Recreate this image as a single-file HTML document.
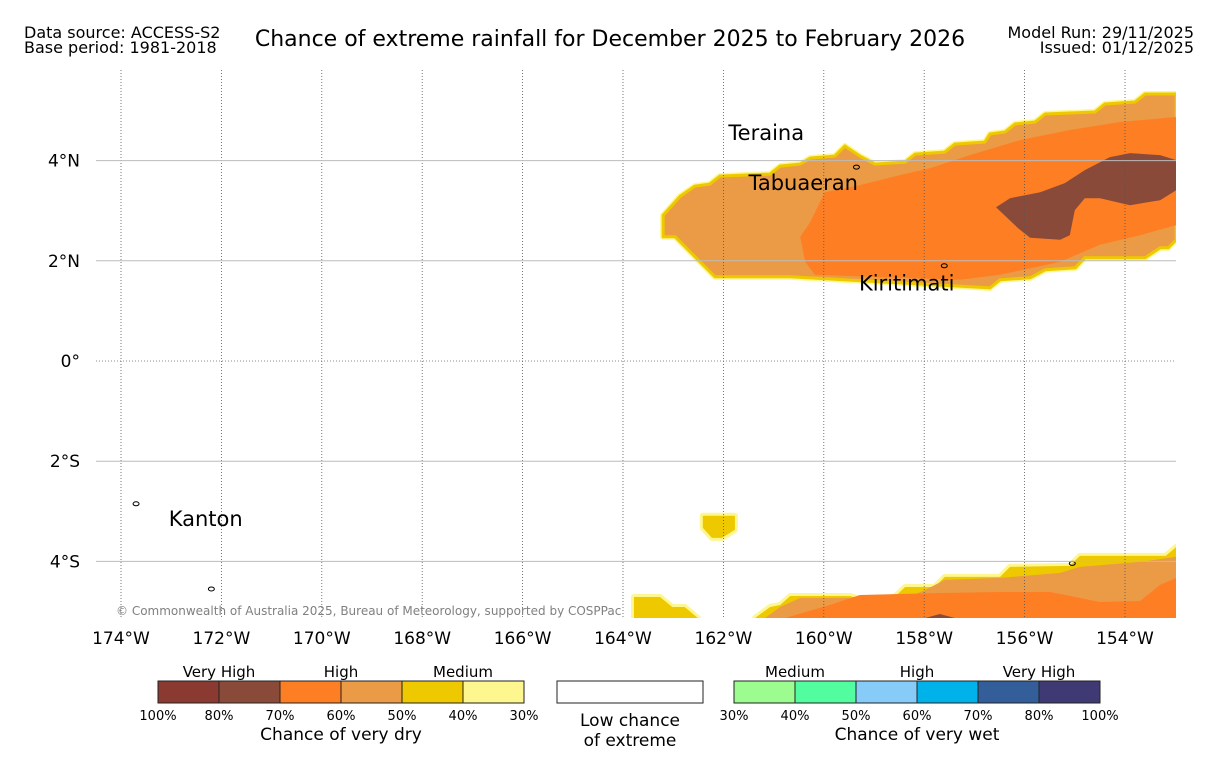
<!DOCTYPE html>
<html><head><meta charset="utf-8"><style>
body{margin:0;background:#fff;width:1219px;height:758px;overflow:hidden;font-family:"DejaVu Sans","Liberation Sans",sans-serif;}
svg{display:block}
text{font-family:"DejaVu Sans","Liberation Sans",sans-serif;}
</style></head><body>
<svg id="chart" width="1219" height="758" viewBox="0 0 1219 758">
<text x="24" y="38" font-size="16">Data source: ACCESS-S2</text>
<text x="24" y="53" font-size="16">Base period: 1981-2018</text>
<text x="610" y="46" font-size="22" text-anchor="middle">Chance of extreme rainfall for December 2025 to February 2026</text>
<text x="1194" y="38" font-size="16" text-anchor="end">Model Run: 29/11/2025</text>
<text x="1194" y="53" font-size="16" text-anchor="end">Issued: 01/12/2025</text>
<g id="map"></g>
<g id="legend"></g>
</svg>
<script>
const lonTicks=[-174,-172,-170,-168,-166,-164,-162,-160,-158,-156,-154];
const latTicks=[4,2,0,-2,-4];
const yellowRegionN=[[-163.2,2.91],[-163.2,2.48],[-162.96,2.48],[-162.17,1.68],[-160.67,1.68],[-156.69,1.46],[-156.49,1.62],[-155.89,1.66],[-155.59,1.82],[-154.99,1.86],[-154.8,2.06],[-153.6,2.06],[-153.3,2.26],[-153.14,2.26],[-152.98,2.42],[-152.98,5.33],[-153.6,5.33],[-153.8,5.17],[-154.4,5.13],[-154.6,4.97],[-155.59,4.93],[-155.79,4.77],[-156.19,4.73],[-156.39,4.57],[-156.69,4.53],[-156.79,4.37],[-157.39,4.33],[-157.59,4.17],[-158.18,4.13],[-158.38,3.97],[-158.98,3.93],[-159.28,4.09],[-159.58,4.29],[-159.78,4.09],[-160.27,4.05],[-160.47,3.93],[-160.87,3.89],[-161.07,3.73],[-162.07,3.69],[-162.27,3.53],[-162.57,3.49],[-162.86,3.29]];
const orangeRegionN=[[-160.47,2.48],[-160.27,2.77],[-159.98,3.37],[-159.28,3.51],[-158.48,3.71],[-157.88,3.85],[-157.09,4.11],[-156.09,4.41],[-155.1,4.61],[-154.1,4.77],[-152.98,4.87],[-152.98,2.71],[-153.7,2.51],[-154.5,2.32],[-155.29,1.98],[-156.49,1.72],[-157.29,1.62],[-158.48,1.66],[-160.18,1.72],[-160.37,1.98]];
const brownRegionN=[[-156.57,3.07],[-156.29,3.25],[-155.69,3.37],[-155.2,3.55],[-154.8,3.81],[-154.3,4.07],[-153.9,4.15],[-153.3,4.11],[-152.98,4.01],[-152.98,3.41],[-153.3,3.21],[-153.9,3.11],[-154.5,3.25],[-154.8,3.25],[-155.0,3.01],[-155.1,2.51],[-155.29,2.42],[-155.89,2.46],[-156.13,2.65]];
const yellowBlobS=[[-162.41,-3.09],[-161.77,-3.09],[-161.77,-3.37],[-162.03,-3.53],[-162.23,-3.53],[-162.41,-3.33]];
const yellowRegionSW=[[-163.78,-4.71],[-163.26,-4.71],[-163.02,-4.91],[-162.77,-4.91],[-162.51,-5.13],[-163.78,-5.13]];
const yellowRegionS=[[-161.37,-5.13],[-161.07,-4.91],[-160.87,-4.87],[-160.67,-4.69],[-159.48,-4.69],[-158.78,-4.89],[-158.38,-4.51],[-157.79,-4.51],[-157.59,-4.31],[-156.49,-4.31],[-156.29,-4.11],[-155.1,-4.09],[-154.9,-3.89],[-153.19,-3.89],[-152.98,-3.71],[-152.98,-5.13]];
const lightOrangeRegionS=[[-161.17,-5.13],[-160.87,-4.91],[-160.47,-4.73],[-159.38,-4.73],[-158.78,-4.91],[-157.98,-4.57],[-157.59,-4.37],[-156.49,-4.33],[-155.29,-4.23],[-154.9,-4.11],[-153.7,-4.01],[-152.98,-3.91],[-152.98,-5.13]];
const orangeRegionS=[[-160.77,-5.13],[-159.88,-4.87],[-159.28,-4.67],[-157.69,-4.63],[-156.49,-4.61],[-155.49,-4.61],[-154.5,-4.81],[-153.7,-4.79],[-153.3,-4.47],[-152.98,-4.33],[-152.98,-5.13]];
const brownRegionS=[[-157.98,-5.13],[-157.69,-5.05],[-157.39,-5.13]];
const places=["Teraina","Tabuaeran","Kiritimati","Kanton"];
const placeLon=[-161.9,-161.5,-159.3,-173.05];
const placeLat=[4.55,3.55,1.55,-3.15];
const dryColors=["#8b3a32","#8a4a3a","#fe7f23","#eb9a46","#eec900","#fef68e"];
const dryTicks=["100%","80%","70%","60%","50%","40%","30%"];
const dryCats=["Very High","High","Medium"];
const wetColors=["#9cfc8f","#52fda0","#87cbf9","#00b2ea","#335e9a","#3f3a74"];
const wetTicks=["30%","40%","50%","60%","70%","80%","100%"];
const wetCats=["Medium","High","Very High"];

const NS="http://www.w3.org/2000/svg";
const X0=96,X1=1176,Y0=70,Y1=618;
const xs=lon=>121+(lon+174)*50.2;
const ys=lat=>361-lat*50.1;
function mk(tag,attrs,parent){const e=document.createElementNS(NS,tag);for(const k in attrs)e.setAttribute(k,attrs[k]);parent.appendChild(e);return e;}
const map=document.getElementById('map');
const defs=mk('defs',{},map);
const cp=mk('clipPath',{id:'clip'},defs);
mk('rect',{x:X0,y:Y0,width:X1-X0,height:Y1-Y0},cp);
const g=mk('g',{'clip-path':'url(#clip)'},map);


const pts=a=>a.map(p=>xs(p[0]).toFixed(1)+','+ys(p[1]).toFixed(1)).join(' ');
function region(a,fill,name,stroke1,stroke2){
  if(stroke1){const o=mk('polygon',{points:pts(a),fill:'none',stroke:stroke1,'stroke-width':6,'stroke-linejoin':'round'},g);
  
  }
  const p=mk('polygon',{points:pts(a),fill:fill},g);
  if(stroke2){p.setAttribute('stroke',stroke2);p.setAttribute('stroke-width',3);}
  
  
}
region(yellowRegionN,'#eb9a46','dry-50-region-north','#fef68e','#eec900');
region(orangeRegionN,'#fe7f23','dry-60-region-north');
region(brownRegionN,'#8a4a3a','dry-70-region-north');
region(yellowBlobS,'#eec900','dry-40-blob-south','#fef68e');
region(yellowRegionSW,'#eec900','dry-40-region-southwest','#fef68e');
region(yellowRegionS,'#eec900','dry-40-region-south','#fef68e');
region(lightOrangeRegionS,'#eb9a46','dry-50-region-south');
region(orangeRegionS,'#fe7f23','dry-60-region-south');
region(brownRegionS,'#8a4a3a','dry-70-region-south');
lonTicks.forEach(l=>{
  const ln=mk('line',{x1:xs(l),x2:xs(l),y1:Y0,y2:Y1,stroke:'#555','stroke-width':0.8,'stroke-dasharray':'1,2'},map);
  
  
  const t=mk('text',{x:xs(l),y:644,'font-size':17,'text-anchor':'middle'},map);
  t.textContent=Math.abs(l)+'°W';
  
  
});
latTicks.forEach(l=>{
  const ln=mk('line',{x1:X0,x2:X1,y1:ys(l),y2:ys(l),stroke:l===0?'#666':'#bbb','stroke-width':l===0?0.8:1,'stroke-dasharray':l===0?'1,2':'none'},map);
  
  
  const t=mk('text',{x:80,y:ys(l)+6,'font-size':17,'text-anchor':'end'},map);
  t.textContent=l===0?'0°':Math.abs(l)+'°'+(l>0?'N':'S');
  
  
});
[[-159.35,3.87],[-157.6,1.9],[-173.7,-2.85],[-172.2,-4.55],[-155.05,-4.04]].forEach(p=>{
  const e=mk('ellipse',{cx:xs(p[0]),cy:ys(p[1]),rx:3,ry:2,fill:'none',stroke:'#000','stroke-width':1},g);
  
  
});
places.forEach((n,i)=>{
  const t=mk('text',{x:xs(placeLon[i]),y:ys(placeLat[i])+7,'font-size':21},map);
  t.textContent=n;
  
  
});
const cr=mk('text',{x:116,y:615,'font-size':12,fill:'#808080'},map);
cr.textContent='© Commonwealth of Australia 2025, Bureau of Meteorology, supported by COSPPac';


const lg=document.getElementById('legend');
function bar(x0,colors,ticks,cats,title,nm){
  const w=61;
  colors.forEach((c,i)=>{const r=mk('rect',{x:x0+i*w,y:681,width:w,height:22,fill:c,stroke:'#222','stroke-width':1},lg);
  
  });
  ticks.forEach((t,i)=>{const e=mk('text',{x:x0+i*w,y:720,'font-size':13,'text-anchor':'middle'},lg);e.textContent=t;
  
  });
  cats.forEach((t,i)=>{const e=mk('text',{x:x0+w+i*2*w,y:677,'font-size':15,'text-anchor':'middle'},lg);e.textContent=t;
  
  });
  const tt=mk('text',{x:x0+3*w,y:740,'font-size':17,'text-anchor':'middle'},lg);tt.textContent=title;
  
  
}
bar(158,dryColors,dryTicks,dryCats,'Chance of very dry','dry-legend');
bar(734,wetColors,wetTicks,wetCats,'Chance of very wet','wet-legend');
const wb=mk('rect',{x:557,y:681,width:146,height:22,fill:'#fff',stroke:'#222','stroke-width':1},lg);


[['Low chance',726],['of extreme',746]].forEach(a=>{const e=mk('text',{x:630,y:a[1],'font-size':17,'text-anchor':'middle'},lg);e.textContent=a[0];

});
</script>
</body></html>
